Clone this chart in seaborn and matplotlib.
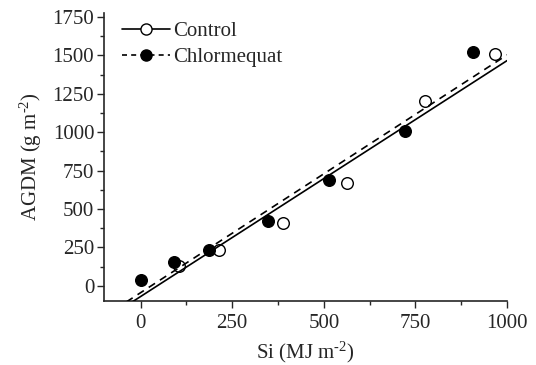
import numpy as np
import pandas as pd
import matplotlib
matplotlib.use("Agg")
import matplotlib.pyplot as plt
from matplotlib.lines import Line2D
from matplotlib.ticker import MultipleLocator
import seaborn as sns

# cumulative intercepted radiation vs above-ground dry matter
si_control = [106, 213, 388, 563, 776, 967]
agdm_control = [130, 234, 410, 670, 1200, 1510]
si_chlor = [0, 90, 186, 347, 514, 721, 907]
agdm_chlor = [39, 156, 234, 423, 690, 1010, 1520]

# fitted lines (slope, intercept)
fit_control = (1.536, -70)
fit_chlor = (1.548, -45)

sns.set_style("ticks")
plt.rcParams["font.family"] = ["Liberation Serif", "DejaVu Serif"]
plt.rcParams["mathtext.fontset"] = "custom"
plt.rcParams["mathtext.rm"] = "Liberation Serif"
plt.rcParams["mathtext.it"] = "Liberation Serif:italic"

pts = pd.concat([
    pd.DataFrame({"si": si_control, "agdm": agdm_control, "trt": "Control"}),
    pd.DataFrame({"si": si_chlor, "agdm": agdm_chlor, "trt": "Chlormequat"}),
])

fig = plt.figure(figsize=(5.36, 3.65), dpi=100)
ax = fig.add_axes([0.194, 0.175, 0.752, 0.789])

xs = np.array([-100, 1000])
lines = pd.concat([
    pd.DataFrame({"x": xs, "y": fit_control[0] * xs + fit_control[1], "trt": "Control"}),
    pd.DataFrame({"x": xs, "y": fit_chlor[0] * xs + fit_chlor[1], "trt": "Chlormequat"}),
])

sns.scatterplot(data=pts[pts.trt == "Control"], x="si", y="agdm", ax=ax,
                s=70, facecolor="white", edgecolor="black", linewidth=1.0,
                legend=False, zorder=2)
sns.scatterplot(data=pts[pts.trt == "Chlormequat"], x="si", y="agdm", ax=ax,
                s=70, color="black", edgecolor="black", linewidth=1.0,
                legend=False, zorder=4)
sns.lineplot(data=lines[lines.trt == "Control"], x="x", y="y", ax=ax,
             color="black", lw=1.2, legend=False, zorder=3)
sns.lineplot(data=lines[lines.trt == "Chlormequat"], x="x", y="y", ax=ax,
             color="black", lw=1.2, ls=(0, (4.5, 3.5)), legend=False, zorder=3)

ax.set_xlim(-100, 1000)
ax.set_ylim(-100, 1775)
ax.xaxis.set_major_locator(MultipleLocator(250))
ax.xaxis.set_minor_locator(MultipleLocator(125))
ax.yaxis.set_major_locator(MultipleLocator(250))
ax.yaxis.set_minor_locator(MultipleLocator(125))
ax.tick_params(which="major", length=5, width=1, labelsize=15, direction="out", pad=2)
ax.tick_params(axis="x", which="major", pad=4)
ax.tick_params(which="minor", length=3, width=1, direction="out")
sns.despine(ax=ax)
for s in ("left", "bottom"):
    ax.spines[s].set_linewidth(1.2)

ax.set_xlabel(r"Si (MJ m$^{\text{-2}}$)", fontsize=15, labelpad=5)
ax.set_ylabel(r"AGDM (g m$^{\text{-2}}$)", fontsize=15, labelpad=6)

handles = [
    Line2D([], [], color="black", lw=1.2, marker="o", markersize=8,
           markerfacecolor="white", markeredgecolor="black"),
    Line2D([], [], color="black", lw=1.2, ls=(0, (3, 2.5)), marker="o", markersize=8,
           markerfacecolor="black", markeredgecolor="black"),
]
ax.legend(handles, ["Control", "Chlormequat"], loc="upper left", frameon=False,
          fontsize=15, handlelength=2.3, handletextpad=0.15, labelspacing=0.3,
          borderaxespad=0.0, bbox_to_anchor=(0.025, 1.0))

fig.savefig("out.png", dpi=100)
